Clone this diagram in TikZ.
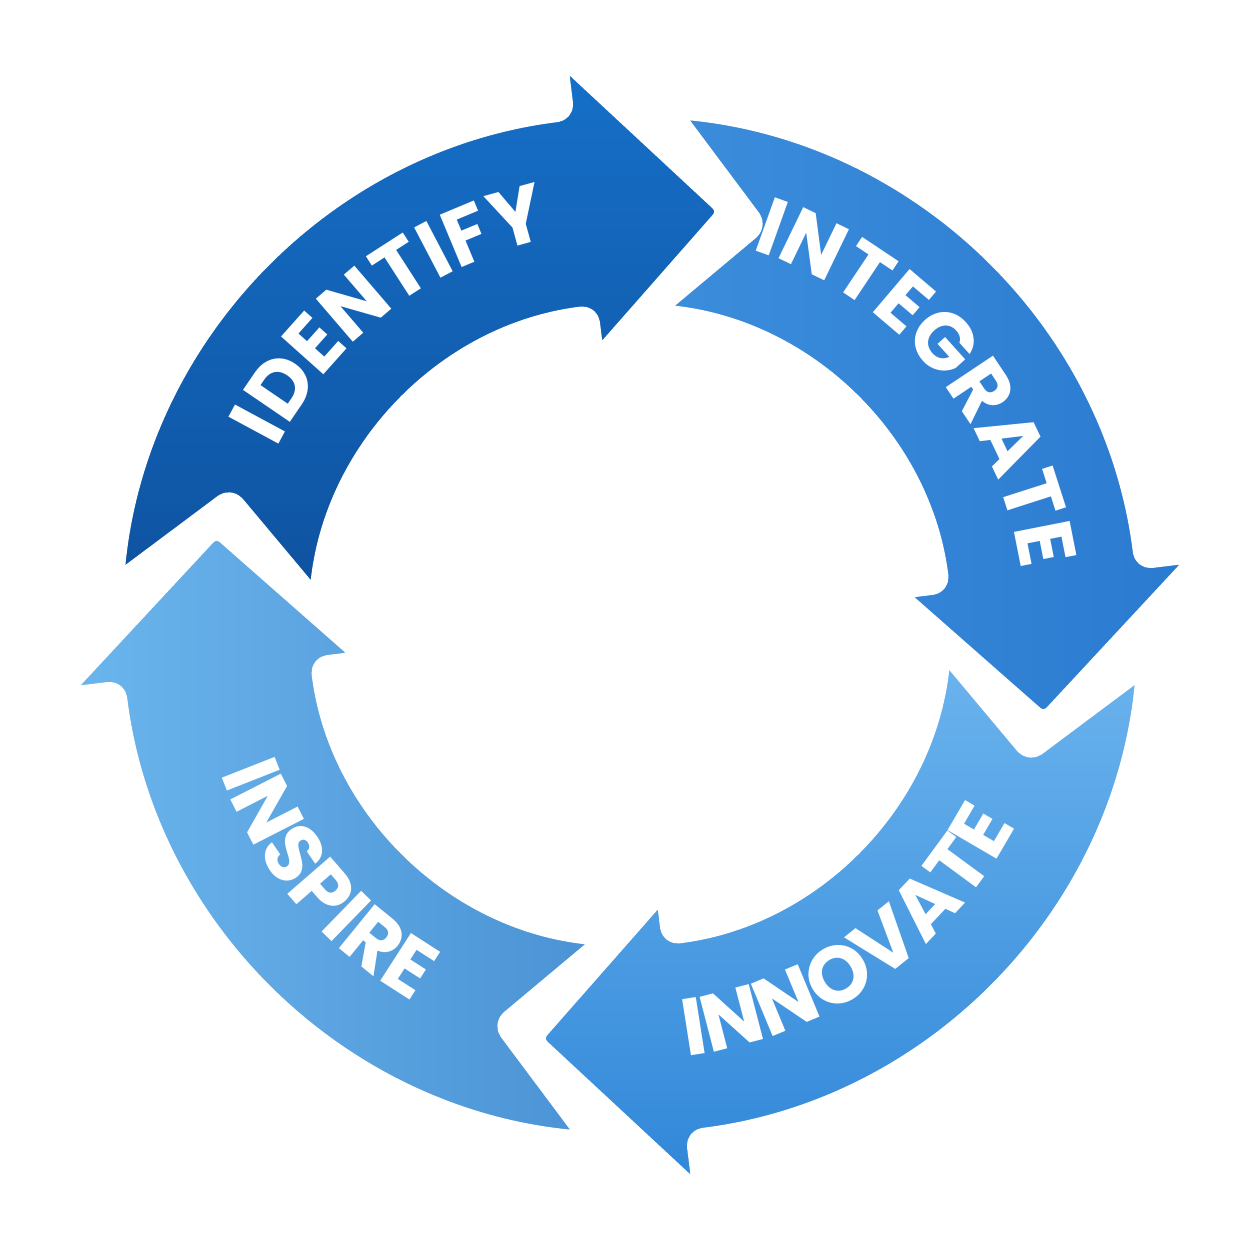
\documentclass[tikz,border=0pt]{standalone}
\usepackage{fontspec}
\newfontfamily\stagefont{Poppins}
\usetikzlibrary{decorations.text}
\definecolor{idA}{HTML}{1670C8}
\definecolor{idB}{HTML}{0E52A0}
\definecolor{inA}{HTML}{3C8EDC}
\definecolor{inB}{HTML}{2A7AD0}
\definecolor{noA}{HTML}{6CB4EE}
\definecolor{noB}{HTML}{2F86D8}
\definecolor{spA}{HTML}{6CB6EE}
\definecolor{spB}{HTML}{4A92D4}
\tikzset{
  stage arrow/.style={draw=white, line width=4pt, line join=round, rounded corners=3pt},
  stage label/.style={decorate, decoration={text along path, text align=center,
    text color=white, text={|\stagefont\bfseries\fontsize{23}{25}\selectfont|#1}}}
}
\begin{document}
\begin{tikzpicture}
  \useasboundingbox[fill=white] (0,0) rectangle (12.54,12.54);
  \begin{scope}[shift={(6.3,6.29)}]
    % four curved arrows, tail t, head base b
    \foreach \t/\ca/\cb/\ang in {175/idA/idB/0, 85/inA/inB/90, -5/noA/noB/0, -95/spA/spB/90}{
      \pgfmathsetmacro{\b}{\t-78}
      \pgfmathsetmacro{\tip}{\b-20}
      \pgfmathsetmacro{\notch}{\t-13}
      \path[stage arrow, shading=axis, left color=\ca, right color=\cb, shading angle=\ang]
        (\t:5.15) arc[start angle=\t, end angle=\b, radius=5.15]
        -- (\b:5.72) -- (\tip:4.25) -- (\b:2.7) -- (\b:3.15)
        arc[start angle=\b, end angle=\t, radius=3.15]
        -- (\notch:4.2) -- cycle;
    }
    % labels along the ring
    \path[stage label=IDENTIFY] (160:3.95) arc[start angle=160, end angle=95, radius=3.95];
    \path[stage label=INTEGRATE] (72:3.95) arc[start angle=72, end angle=8, radius=3.95];
    \path[stage label=INNOVATE] (-88:4.35) arc[start angle=-88, end angle=-22, radius=4.35];
    \path[stage label=INSPIRE] (190:4.35) arc[start angle=190, end angle=250, radius=4.35];
  \end{scope}
\end{tikzpicture}
\end{document}
